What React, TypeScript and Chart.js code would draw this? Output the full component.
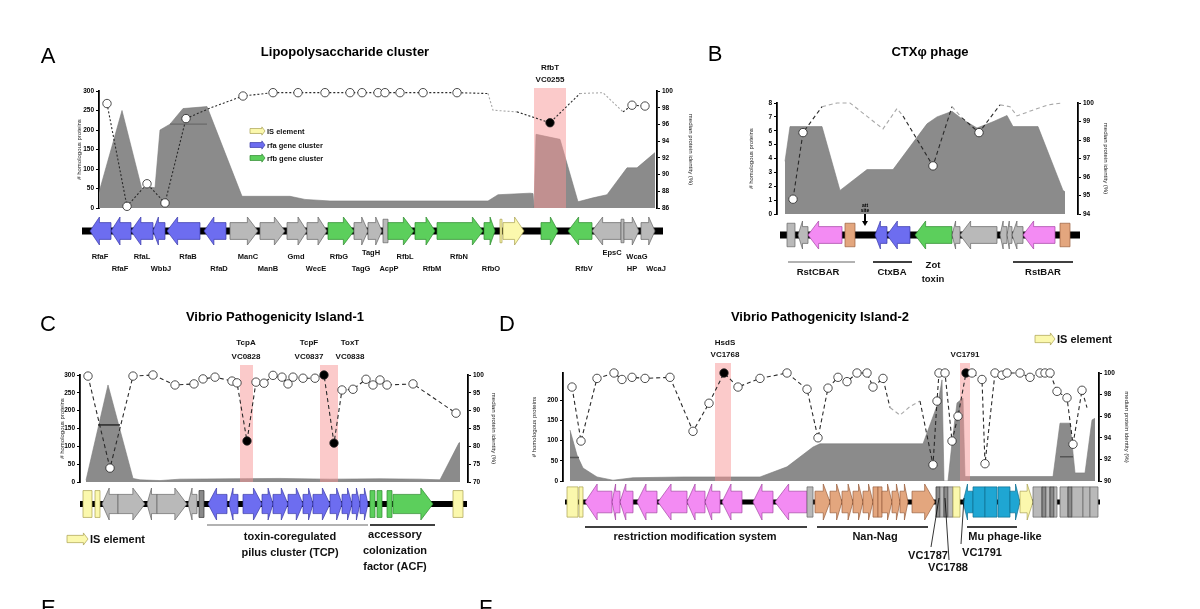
import React, { useEffect, useRef } from "react";
import { Chart, registerables } from "chart.js";

Chart.register(...registerables);

const FONT = "'Liberation Sans', Arial, Helvetica, sans-serif";

// ---------------- Panel A : Lipopolysaccharide cluster ----------------
const aAreaPos = [0, 23, 43, 47, 56, 61, 71, 84, 108, 143, 191, 206, 231, 381, 389, 399, 431, 434, 435, 437, 461, 479, 494, 508, 528, 538, 556];
const aAreaCount = [40, 250, 47, 55, 52, 200, 215, 255, 260, 30, 30, 22, 18, 18, 18, 34, 38, 37, 2, 189, 176, 16, 26, 34, 103, 103, 142];
const aIdPos = [8, 28, 48, 66, 87, 112, 144, 174, 199, 226, 251, 263, 279, 286, 301, 324, 358, 389, 394, 418, 451, 481, 504, 524, 533, 546];
const aIdVal = [98.5, 86.2, 88.9, 86.6, 96.7, 98.0, 99.4, 99.8, 99.8, 99.8, 99.8, 99.8, 99.8, 99.8, 99.8, 99.8, 99.8, 99.7, 97.7, 97.5, 96.2, 99.7, 99.8, 97.5, 98.3, 98.2];
const aIdKind = [1, 1, 1, 1, 1, 0, 1, 1, 1, 1, 1, 1, 1, 1, 1, 1, 1, 0, 0, 0, 2, 0, 0, 0, 1, 1];
const aMedians = [[71, 108, 215]];
const aBands = [[435, 467]];
const aGenome = [-17, 564];
const aGenes = [
  [-9, 12, -1, "b"], [12, 32, -1, "b"], [32, 54, -1, "b"], [54, 66, -1, "b"], [68, 101, -1, "b"], [105, 127, -1, "b"],
  [131, 159, 1, "g"], [161, 186, 1, "g"], [188, 208, 1, "g"], [208, 228, 1, "g"], [229, 255, 1, "G"], [255, 269, 1, "g"],
  [269, 283, 1, "g"], [284, 289, 0, "g"], [289, 315, 1, "G"], [316, 336, 1, "G"], [338, 384, 1, "G"], [385, 396, 1, "G"],
  [401, 403, 0, "y"], [404, 425, 1, "y"], [442, 459, 1, "G"], [469, 493, -1, "G"], [493, 522, -1, "g"], [522, 525, 0, "g"],
  [525, 540, 1, "g"], [542, 556, 1, "g"],
];
const aTexts = [
  [451, "t", -23, "RfbT"], [451, "t", -11, "VC0255"],
  [1, "b", 49, "RfaF"], [43, "b", 49, "RfaL"], [89, "b", 49, "RfaB"], [149, "b", 49, "ManC"], [197, "b", 49, "Gmd"],
  [240, "b", 49, "RfbG"], [272, "b", 45, "TagH"], [306, "b", 49, "RfbL"], [360, "b", 49, "RfbN"], [513, "b", 45, "EpsC"],
  [538, "b", 49, "WcaG"],
  [21, "b", 61, "RfaF"], [62, "b", 61, "WbbJ"], [120, "b", 61, "RfaD"], [169, "b", 61, "ManB"], [217, "b", 61, "WecE"],
  [262, "b", 61, "TagG"], [290, "b", 61, "AcpP"], [333, "b", 61, "RfbM"], [392, "b", 61, "RfbO"], [485, "b", 61, "RfbV"],
  [533, "b", 61, "HP"], [557, "b", 61, "WcaJ"],
];
const aLegend = [
  [151, 166, "t", 40, "y", "IS element"],
  [151, 166, "t", 54, "b", "rfa gene cluster"],
  [151, 166, "t", 67, "G", "rfb gene cluster"],
];

// ---------------- Panel B : CTXφ phage ----------------
const bAreaPos = [8, 13, 45, 63, 90, 116, 150, 160, 175, 186, 200, 216, 230, 236, 261, 286, 288];
const bAreaCount = [3.8, 6.3, 6.3, 1.7, 3.2, 3.2, 6.5, 7.0, 7.4, 6.8, 6.2, 6.65, 7.1, 6.3, 6.3, 1.7, 1.6];
const bIdPos = [16, 26, 45, 60, 73, 106, 120, 126, 156, 175, 185, 202, 223, 233, 240, 255, 271, 285];
const bIdVal = [94.8, 98.4, 99.8, 100, 100, 98.6, 99.7, 99.3, 96.6, 99.8, 99.2, 98.4, 99.9, 99.8, 99.3, 99.6, 99.9, 100];
const bIdKind = [1, 1, 0, 0, 0, 0, 0, 0, 1, 0, 0, 1, 0, 0, 0, 0, 0, 0];
const bGenome = [3, 303];
const bGenes = [
  [10, 18, 0, "g"], [21, 31, -1, "g"], [31, 65, -1, "p"], [68, 78, 0, "t"], [98, 110, -1, "b"], [110, 133, -1, "b"],
  [138, 175, -1, "G"], [175, 183, -1, "g"], [183, 220, -1, "g"], [223, 230, -1, "g"], [230, 235, -1, "g"], [235, 246, -1, "g"],
  [246, 278, -1, "p"], [283, 293, 0, "t"],
];
const bAttSite = [88];
const bTexts = [
  [41, "b", 58, "RstCBAR"], [115, "b", 58, "CtxBA"], [156, "b", 51, "Zot"], [156, "b", 65, "toxin"], [266, "b", 58, "RstBAR"],
];
const bLines = [[11, 48, 78, 48, "#999"], [96, 48, 135, 48, "#000"], [236, 48, 296, 48, "#000"]];

// ---------------- Panel C : Vibrio Pathogenicity Island-1 ----------------
const cAreaPos = [6, 28, 53, 60, 80, 100, 150, 200, 250, 300, 340, 360, 379, 380];
const cAreaCount = [5, 272, 10, 6, 4, 8, 9, 10, 8, 9, 8, 6, 110, 110];
const cIdPos = [8, 30, 53, 73, 95, 114, 123, 135, 152, 157, 167, 176, 184, 193, 202, 208, 213, 223, 235, 244, 254, 262, 273, 286, 293, 300, 307, 333, 376];
const cIdVal = [99.7, 73.9, 99.7, 100, 97.2, 97.5, 98.9, 99.4, 98.3, 97.8, 81.5, 98.0, 97.7, 99.9, 99.4, 97.5, 99.4, 99.1, 99.1, 100, 80.9, 95.8, 96.0, 98.8, 97.2, 98.6, 97.2, 97.5, 89.3];
const cIdKind = [1, 1, 1, 1, 1, 1, 1, 1, 1, 1, 2, 1, 1, 1, 1, 1, 1, 1, 1, 2, 2, 1, 1, 1, 1, 1, 1, 1, 1];
const cMedians = [[18, 40, 160]];
const cBands = [[160, 173], [240, 258]];
const cGenome = [0, 387];
const cGenes = [
  [3, 12, 0, "y"], [15, 20, 0, "y"], [22, 38, -1, "g"], [38, 65, 1, "g"], [67, 77, -1, "g"], [77, 107, 1, "g"],
  [108, 117, -1, "g"], [119, 124, 0, "d"],
  [128, 147, -1, "b"], [149, 158, -1, "b"], [163, 182, 1, "b"], [182, 193, 1, "b"], [193, 208, 1, "b"], [208, 223, 1, "b"],
  [223, 233, 1, "b"], [233, 250, 1, "b"], [250, 262, 1, "b"], [262, 272, 1, "b"], [272, 280, 1, "b"], [280, 288, 1, "b"],
  [290, 295, 0, "G"], [297, 302, 0, "G"], [307, 312, 0, "G"], [313, 353, 1, "G"], [373, 383, 0, "y"],
];
const cTexts = [
  [166, "t", -32, "TcpA"], [166, "t", -18, "VC0828"], [229, "t", -32, "TcpF"], [229, "t", -18, "VC0837"],
  [270, "t", -32, "ToxT"], [270, "t", -18, "VC0838"],
  [210, "b", 55, "toxin-coregulated"], [210, "b", 71, "pilus cluster (TCP)"],
  [315, "b", 53, "accessory"], [315, "b", 69, "colonization"], [315, "b", 85, "factor (ACF)"],
];
const cLines = [[127, 43, 288, 43, "#999"], [290, 43, 355, 43, "#000"]];
const cLegend = [[-13, 8, "b", 57, "y", "IS element"]];

// ---------------- Panel D : Vibrio Pathogenicity Island-2 ----------------
const dAreaPos = [7, 14, 20, 34, 50, 70, 120, 197, 224, 250, 257, 360, 375, 379, 381, 385, 389, 394, 400, 402, 407, 490, 497, 507, 512, 522, 529, 532];
const dAreaCount = [126, 64, 32, 10, 2, 8, 10, 10, 35, 84, 92, 92, 193, 250, 0, 0, 94, 193, 205, 11, 11, 11, 143, 143, 20, 20, 151, 155];
const dIdPos = [9, 18, 34, 51, 59, 69, 82, 107, 130, 146, 161, 175, 197, 224, 244, 255, 265, 275, 284, 294, 304, 310, 320, 327, 337, 347, 357, 370, 374, 376, 382, 389, 395, 403, 409, 419, 422, 432, 439, 444, 457, 467, 477, 482, 487, 494, 504, 510, 519, 524];
const dIdVal = [98.7, 93.7, 99.5, 100, 99.4, 99.6, 99.5, 99.6, 94.6, 97.2, 100, 98.7, 99.5, 100, 98.5, 94.0, 98.6, 99.6, 99.2, 100, 100, 98.7, 99.5, 96.8, 96.1, 96.9, 97.4, 91.5, 97.4, 100, 100, 93.7, 96.0, 100, 100, 99.4, 91.6, 100, 99.8, 100, 100, 99.6, 100, 100, 100, 98.3, 97.7, 93.4, 98.4, 96.8];
const dIdKind = [1, 1, 1, 1, 1, 1, 1, 1, 1, 1, 2, 1, 1, 1, 1, 1, 1, 1, 1, 1, 1, 1, 1, 0, 0, 0, 0, 1, 1, 1, 1, 1, 1, 2, 1, 1, 1, 1, 1, 1, 1, 1, 1, 1, 1, 1, 1, 1, 1, 0];
const dMedians = [[7, 16, 58], [497, 510, 60]];
const dBands = [[152, 168], [397, 407]];
const dGenome = [2, 537];
const dGenes = [
  [4, 15, 0, "y"], [16, 20, 0, "y"],
  [22, 49, -1, "p"], [49, 57, -1, "p"], [57, 70, -1, "p"], [74, 94, -1, "p"], [95, 124, -1, "p"], [124, 142, -1, "p"],
  [142, 157, -1, "p"], [159, 179, -1, "p"], [190, 210, -1, "p"], [212, 244, -1, "p"],
  [244, 250, 0, "g"],
  [252, 267, 1, "t"], [267, 279, 1, "t"], [279, 290, 1, "t"], [290, 300, 1, "t"], [300, 310, 1, "t"], [310, 315, 0, "t"],
  [315, 319, 0, "t"], [319, 329, 1, "t"], [329, 337, 1, "t"], [337, 345, 1, "t"], [349, 372, 1, "t"],
  [373, 377, 0, "d"], [377, 381, 0, "g"], [381, 385, 0, "d"], [385, 390, 0, "g"], [390, 397, 0, "y"],
  [400, 410, -1, "c"], [410, 422, 0, "c"], [422, 434, 0, "c"], [435, 447, 0, "c"], [447, 457, 1, "c"],
  [457, 470, 1, "y"], [470, 479, 0, "g"], [479, 483, 0, "d"], [483, 487, 0, "g"], [487, 491, 0, "d"], [491, 494, 0, "g"],
  [497, 505, 0, "g"], [505, 509, 0, "d"], [509, 520, 0, "g"], [520, 527, 0, "g"], [527, 535, 0, "g"],
];
const dTexts = [
  [162, "t", -30, "HsdS"], [162, "t", -18, "VC1768"], [402, "t", -18, "VC1791"],
  [132, "b", 56, "restriction modification system"], [312, "b", 56, "Nan-Nag"], [442, "b", 56, "Mu phage-like"],
  [365, "b", 75, "VC1787"], [385, "b", 87, "VC1788"], [419, "b", 72, "VC1791"],
];
const dLines = [
  [22, 46, 244, 46, "#000"], [254, 46, 365, 46, "#000"], [404, 46, 454, 46, "#000"],
  [376, 17, 368, 66, "#000"], [382, 17, 386, 79, "#000"], [401, 17, 398, 63, "#000"],
];
const dLegend = [[472, 492, "t", -34, "y", "IS element"]];

const COLORS: Record<string, [string, string]> = {
  b: ["#6d6df0", "#3b3ba8"],
  g: ["#b9b9b9", "#666666"],
  G: ["#5ccf5c", "#2e8a2e"],
  y: ["#fbf8ad", "#a9a052"],
  p: ["#f38bf3", "#a346a3"],
  t: ["#e3a67e", "#99603f"],
  c: ["#1fa6d3", "#0f6f90"],
  d: ["#8a8a8a", "#333333"],
};

const PANELS: any[] = [
  {
    id: "A", rect: [30, 35, 670, 250], pad: { left: 45, top: 56, right: 5, bottom: 77 }, wL: 24, wR: 38, xMax: 558,
    yL: [0, 300, 50], yR: [86, 100, 2], letter: [-51, -34, "A"], title: [246, -39, "Lipopolysaccharide cluster"],
    areaX: aAreaPos, areaY: aAreaCount, idX: aIdPos, idY: aIdVal, idK: aIdKind, medians: aMedians, medianColor: "#6a6a6a",
    bands: aBands, bandRise: 3, genome: aGenome, genes: aGenes, track: [23, 28, 7], dash: [2, 2],
    texts: aTexts, textSize: 7.5, topSize: 8, lines: [], legend: aLegend, legendSize: 7.5, att: [],
  },
  {
    id: "B", rect: [700, 35, 420, 250], pad: { left: 47, top: 68, right: 10, bottom: 71 }, wL: 30, wR: 32, xMax: 301,
    yL: [0, 8, 1], yR: [94, 100, 1], letter: [-62, -48, "B"], title: [153, -51, "CTXφ phage"],
    areaX: bAreaPos, areaY: bAreaCount, idX: bIdPos, idY: bIdVal, idK: bIdKind, medians: [], medianColor: "#000",
    bands: [], bandRise: 0, genome: bGenome, genes: bGenes, track: [21, 28, 7], dash: [4, 3],
    texts: bTexts, textSize: 9.5, topSize: 8, lines: bLines, legend: [], legendSize: 8, att: bAttSite,
  },
  {
    id: "C", rect: [30, 300, 475, 300], pad: { left: 28, top: 75, right: 7, bottom: 118 }, wL: 22, wR: 30, xMax: 388,
    yL: [0, 300, 50], yR: [70, 100, 5], letter: [-32, -50, "C"], title: [195, -58, "Vibrio Pathogenicity Island-1"],
    areaX: cAreaPos, areaY: cAreaCount, idX: cIdPos, idY: cIdVal, idK: cIdKind, medians: cMedians, medianColor: "#222",
    bands: cBands, bandRise: 10, genome: cGenome, genes: cGenes, track: [22, 32, 6], dash: [4, 3],
    texts: cTexts, textSize: 11, topSize: 8, lines: cLines, legend: cLegend, legendSize: 11, att: [],
  },
  {
    id: "D", rect: [490, 300, 660, 300], pad: { left: 40, top: 73, right: 19, bottom: 119 }, wL: 33, wR: 32, xMax: 536,
    yL: [0, 267, 50], yR: [90, 100, 2], letter: [-56, -48, "D"], title: [257, -56, "Vibrio Pathogenicity Island-2"],
    areaX: dAreaPos, areaY: dAreaCount, idX: dIdPos, idY: dIdVal, idK: dIdKind, medians: dMedians, medianColor: "#555",
    bands: dBands, bandRise: 10, genome: dGenome, genes: dGenes, track: [21, 36, 5], dash: [4, 3],
    texts: dTexts, textSize: 11, topSize: 8, lines: dLines, legend: dLegend, legendSize: 11, att: [],
  },
];

function drawGene(ctx: CanvasRenderingContext2D, x0: number, x1: number, yc: number, h: number, dir: number, key: string) {
  const [fill, stroke] = COLORS[key] || COLORS.g;
  const len = x1 - x0;
  const bh = h * 0.6;
  const hl = Math.min(len * 0.45, h * 0.38);
  ctx.beginPath();
  if (dir === 1) {
    ctx.moveTo(x0, yc - bh / 2);
    ctx.lineTo(x1 - hl, yc - bh / 2);
    ctx.lineTo(x1 - hl, yc - h / 2);
    ctx.lineTo(x1, yc);
    ctx.lineTo(x1 - hl, yc + h / 2);
    ctx.lineTo(x1 - hl, yc + bh / 2);
    ctx.lineTo(x0, yc + bh / 2);
  } else if (dir === -1) {
    ctx.moveTo(x1, yc - bh / 2);
    ctx.lineTo(x0 + hl, yc - bh / 2);
    ctx.lineTo(x0 + hl, yc - h / 2);
    ctx.lineTo(x0, yc);
    ctx.lineTo(x0 + hl, yc + h / 2);
    ctx.lineTo(x0 + hl, yc + bh / 2);
    ctx.lineTo(x1, yc + bh / 2);
  } else {
    ctx.rect(x0, yc - h * 0.42, len, h * 0.84);
  }
  ctx.closePath();
  ctx.fillStyle = fill;
  ctx.fill();
  ctx.lineWidth = 0.7;
  ctx.strokeStyle = stroke;
  ctx.stroke();
}

function makePlugin(p: any) {
  return {
    id: "panel" + p.id,
    afterDatasetDraw(chart: any, args: any) {
      if (args.index !== 0) return;
      const ctx = chart.ctx;
      const xs = chart.scales.x;
      const ca = chart.chartArea;
      ctx.save();
      ctx.fillStyle = "rgba(248,150,150,0.5)";
      for (const [b0, b1] of p.bands) {
        const x0 = xs.getPixelForValue(b0);
        const x1 = xs.getPixelForValue(b1);
        ctx.fillRect(x0, ca.top - p.bandRise, x1 - x0, ca.bottom - ca.top + p.bandRise);
      }
      ctx.restore();
    },
    afterDraw(chart: any) {
      const ctx = chart.ctx as CanvasRenderingContext2D;
      const xs = chart.scales.x;
      const ca = chart.chartArea;
      const X = (v: number) => xs.getPixelForValue(v);
      const Y = (ref: string, dy: number) => (ref === "t" ? ca.top : ca.bottom) + dy;
      ctx.save();
      ctx.fillStyle = "#000";
      ctx.textAlign = "center";
      ctx.textBaseline = "middle";
      ctx.font = `22px ${FONT}`;
      ctx.fillText(p.letter[2], X(p.letter[0]), ca.top + p.letter[1]);
      ctx.font = `bold 13px ${FONT}`;
      ctx.fillText(p.title[2], X(p.title[0]), ca.top + p.title[1]);

      const [tdy, gh, lw] = p.track;
      const yc = ca.bottom + tdy;
      ctx.fillStyle = "#000";
      ctx.fillRect(X(p.genome[0]), yc - lw / 2, X(p.genome[1]) - X(p.genome[0]), lw);
      for (const g of p.genes) drawGene(ctx, X(g[0]), X(g[1]), yc, gh, g[2], g[3]);

      for (const a of p.att) {
        const ax = X(a);
        ctx.font = `bold 5px ${FONT}`;
        ctx.fillStyle = "#000";
        ctx.fillText("att", ax, ca.bottom - 8);
        ctx.fillText("site", ax, ca.bottom - 3);
        ctx.fillRect(ax - 1, ca.bottom, 2, 7);
        ctx.beginPath();
        ctx.moveTo(ax - 3, ca.bottom + 7);
        ctx.lineTo(ax + 3, ca.bottom + 7);
        ctx.lineTo(ax, ca.bottom + 12);
        ctx.closePath();
        ctx.fill();
      }

      for (const l of p.lines) {
        ctx.beginPath();
        ctx.moveTo(X(l[0]), ca.bottom + l[1]);
        ctx.lineTo(X(l[2]), ca.bottom + l[3]);
        ctx.strokeStyle = l[4];
        ctx.lineWidth = l[1] === l[3] ? 1.5 : 0.8;
        ctx.stroke();
      }

      for (const t of p.texts) {
        const size = t[1] === "t" ? p.topSize : p.textSize;
        ctx.font = `bold ${size}px ${FONT}`;
        ctx.fillStyle = "#111";
        ctx.fillText(t[3], X(t[0]), Y(t[1], t[2]));
      }

      for (const lg of p.legend) {
        const ly = Y(lg[2], lg[3]);
        const h = p.legendSize * 1.1;
        drawGene(ctx, X(lg[0]), X(lg[1]), ly, h, 1, lg[4]);
        ctx.font = `bold ${p.legendSize}px ${FONT}`;
        ctx.fillStyle = "#111";
        ctx.textAlign = "left";
        ctx.fillText(lg[5], X(lg[1]) + 2, ly + 0.5);
        ctx.textAlign = "center";
      }
      ctx.restore();
    },
  };
}

function buildConfig(p: any) {
  const area = p.areaX.map((x: number, i: number) => ({ x, y: p.areaY[i] }));
  const ident = p.idX.map((x: number, i: number) => ({ x, y: p.idY[i] }));
  const med: any[] = [];
  for (const m of p.medians) {
    med.push({ x: m[0], y: m[2] }, { x: m[1], y: m[2] }, { x: m[1] + 0.01, y: null });
  }
  const kinds = p.idK;
  const axisCommon = (pos: string, r: number[], title: string, w: number) => ({
    type: "linear",
    position: pos,
    min: r[0],
    max: r[1],
    afterBuildTicks: (s: any) => {
      s.ticks = s.ticks.filter((t: any) => Math.abs(((t.value - r[0]) / r[2]) - Math.round((t.value - r[0]) / r[2])) < 1e-6);
    },
    afterFit: (s: any) => {
      s.width = w;
    },
    ticks: { stepSize: r[2], color: "#000", font: { family: FONT, size: 6.5, weight: "bold" }, padding: 2 },
    grid: { drawOnChartArea: false, drawTicks: true, tickLength: 3, color: "#000", lineWidth: 1 },
    border: { display: true, color: "#000", width: 1.8 },
    title: { display: true, text: title, color: "#222", font: { family: FONT, size: 6 }, padding: 1 },
  });
  return {
    type: "line",
    data: {
      datasets: [
        {
          label: "homologous proteins",
          data: area,
          yAxisID: "yL",
          fill: "origin",
          backgroundColor: "#8b8b8b",
          borderColor: "#7a7a7a",
          borderWidth: 0.6,
          pointRadius: 0,
          tension: 0,
          order: 3,
        },
        {
          label: "median",
          data: med,
          yAxisID: "yL",
          fill: false,
          borderColor: p.medianColor,
          borderWidth: 1.4,
          pointRadius: 0,
          spanGaps: false,
          order: 2,
        },
        {
          label: "median protein identity",
          data: ident,
          yAxisID: "yR",
          fill: false,
          clip: false,
          borderColor: "#333",
          borderWidth: 1.1,
          borderDash: p.dash,
          segment: {
            borderColor: (c: any) => (kinds[c.p0DataIndex] || kinds[c.p1DataIndex] ? "#2a2a2a" : "#a8a8a8"),
          },
          pointRadius: kinds.map((k: number) => (k ? 4.2 : 0)),
          pointBackgroundColor: kinds.map((k: number) => (k === 2 ? "#000" : "#fff")),
          pointBorderColor: "#222",
          pointBorderWidth: 0.8,
          tension: 0,
          order: 1,
        },
      ],
    },
    options: {
      animation: false,
      responsive: false,
      devicePixelRatio: 1,
      events: [],
      layout: { padding: p.pad },
      plugins: { legend: { display: false }, tooltip: { enabled: false }, title: { display: false } },
      scales: {
        x: { type: "linear", display: false, min: 0, max: p.xMax },
        yL: axisCommon("left", p.yL, "# homologous proteins", p.wL),
        yR: axisCommon("right", p.yR, "median protein identity (%)", p.wR),
      },
    },
    plugins: [makePlugin(p)],
  };
}

function PanelChart({ p }: { p: any }) {
  const ref = useRef<HTMLCanvasElement | null>(null);
  useEffect(() => {
    if (!ref.current) return;
    const chart = new Chart(ref.current, buildConfig(p) as any);
    return () => chart.destroy();
  }, [p]);
  const [l, t, w, h] = p.rect;
  return (
    <canvas
      ref={ref}
      width={w}
      height={h}
      style={{ position: "absolute", left: l, top: t, width: w, height: h }}
    />
  );
}

export default function App() {
  return (
    <div
      style={{
        position: "absolute",
        left: 0,
        top: 0,
        width: 1200,
        height: 609,
        overflow: "hidden",
        background: "#fff",
        fontFamily: FONT,
      }}
    >
      {PANELS.map((p) => (
        <PanelChart key={p.id} p={p} />
      ))}
      <div style={{ position: "absolute", left: 41, top: 595, fontSize: 22, lineHeight: "26px", color: "#000" }}>E</div>
      <div style={{ position: "absolute", left: 479, top: 595, fontSize: 22, lineHeight: "26px", color: "#000" }}>F</div>
    </div>
  );
}
